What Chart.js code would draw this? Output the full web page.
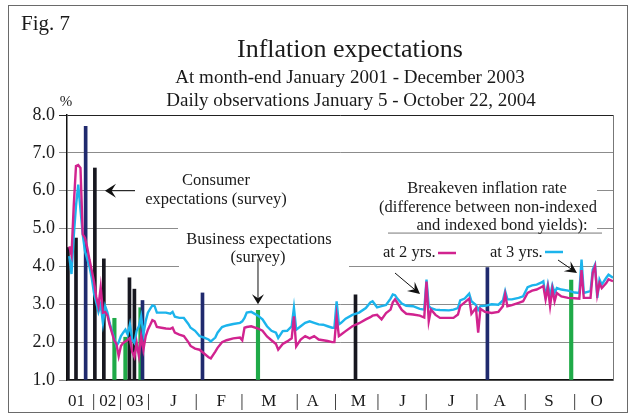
<!DOCTYPE html>
<html><head><meta charset="utf-8">
<script src="https://cdn.jsdelivr.net/npm/chart.js@4/dist/chart.umd.min.js"></script>
<style>html,body{margin:0;padding:0;background:#fff}#wrap{width:635px;height:419px}</style>
</head><body><div id="wrap"><canvas id="c" width="635" height="419"></canvas></div>
<script>
// observation number: 1-36 = month-ends Jan 2001 - Dec 2003, 37+ = daily obs Jan 5 - Oct 22, 2004
const obs = [1,2,3,4,5,6,7,8,9,10,11,12,13,14,15,16,17,18,19,20,21,22,23,24,25,26,27,28,29,30,31,32,33,34,35,36,
  37,38,39,40,42,44,46,47,48,50,52,54,55,57,59,61,63,64,66,67,69,71,74,77,78,79,80,82,85,87,89,91,93,94,96,98,100,101,102,104,106,108,110,112,114,116,118,119,120,121,122,124,127,130,133,135,136,138,140,142,144,145,146,147,149,151,154,157,159,160,161,162,164,166,170,172,174,175,177,179,180,182,183,184,186,189,192,194,195,196,198,201,203,205,207,209,211,212,213,214,215,216,217,218,220,223,226,228,229,230,233,234,235,236,237,238,240,241,243];
// breakeven inflation rate, 2-year bonds (%)
const be2 = [4.53,4.3,5.6,6.65,6.68,6.6,4.85,4.75,4.5,4.18,3.9,3.6,3.2,2.95,3.45,2.78,2.8,2.7,2.45,2.25,2.05,1.95,1.63,1.9,1.98,2.02,2.06,2.11,1.75,1.61,1.98,1.63,2.16,1.8,2.15,2.33,
  2.45,2.58,2.55,2.4,2.38,2.36,2.35,2.38,2.25,2.2,2.16,2.0,1.9,1.83,1.8,1.7,1.6,1.57,1.75,1.85,2.0,2.05,2.1,2.12,2.05,2.38,2.4,2.42,2.36,2.3,2.15,2.05,1.95,1.8,1.95,2.02,2.1,2.68,1.89,2.07,2.16,2.1,2.16,2.07,2.05,2.03,2.0,2.0,2.68,2.16,2.2,2.29,2.42,2.5,2.6,2.66,2.7,2.72,2.6,2.77,2.86,3.05,3.13,3.04,2.85,2.75,2.73,2.7,2.65,3.6,2.55,2.86,2.72,2.64,2.64,2.64,2.73,2.95,3.05,3.15,2.75,2.9,2.25,2.88,2.8,2.77,2.8,2.95,3.26,2.95,2.98,3.04,3.08,3.3,3.36,3.39,3.45,3.48,3.13,3.45,2.95,3.4,3.08,3.3,3.21,3.17,3.16,3.15,3.9,3.17,3.17,3.83,4.0,3.26,3.56,3.43,3.56,3.66,3.61];
// breakeven inflation rate, 3-year bonds (%)
const be3 = [4.27,3.8,4.8,5.6,6.16,5.5,4.85,4.4,4.2,4.0,3.7,3.3,3.05,2.8,3.0,2.5,2.95,2.78,2.5,2.3,2.1,1.9,2.0,2.16,2.25,2.33,2.2,2.47,2.07,1.98,2.3,2.42,2.68,2.2,2.55,2.78,
  2.88,2.97,2.95,2.78,2.78,2.78,2.75,2.8,2.67,2.64,2.64,2.48,2.38,2.3,2.16,2.12,2.07,2.02,2.12,2.25,2.4,2.44,2.48,2.51,2.55,2.64,2.78,2.8,2.7,2.6,2.42,2.3,2.25,2.11,2.29,2.3,2.42,2.91,2.33,2.42,2.51,2.55,2.51,2.47,2.46,2.42,2.38,2.38,3.08,2.47,2.51,2.62,2.72,2.78,2.9,3.05,3.08,2.92,2.95,2.98,3.15,3.26,3.24,3.15,3.02,2.96,2.95,2.88,2.86,3.65,2.95,2.9,2.86,2.85,2.84,2.86,2.9,3.1,3.15,3.28,3.08,2.98,2.85,2.95,2.96,3.0,2.99,3.1,3.35,3.13,3.13,3.17,3.21,3.45,3.5,3.52,3.57,3.61,3.2,3.52,3.21,3.5,3.3,3.43,3.39,3.36,3.31,3.3,4.18,3.3,3.35,3.92,4.05,3.17,3.65,3.52,3.7,3.78,3.7];
// consumer expectations (survey)
const consumerT = [0.4,4,8.3,12.4,16.4,27.8,30,33.6,60.3,128.4,187.1];
const consumerV = [4.5,4.75,7.7,6.6,4.2,3.7,3.4,3.1,3.3,3.25,3.97];
// business expectations (survey)
const businessT = [21.1,26,32.7,85,224.4];
const businessV = [2.63,2.13,2.91,2.84,3.64];
// axis labels
const xTickPos = [4.2,11.9,18.1,23.8,30.3,36.3,47.4,57.5,68.6,77.9,89.8,102.5,109.3,119.5,129.7,138.4,149.3,159.9,171,182.4,192.5,203.9,214.5,225.9,235.7];
const xTickLabels = ['01','|','02','|','03','|','J','|','F','|','M','|','A','|','M','|','J','|','J','|','A','|','S','|','O'];
const yTickValues = [1,2,3,4,5,6,7,8];

const SERIF = '"Liberation Serif", "DejaVu Serif", serif';
const MAG = '#d1238f', CYAN = '#1cb4ec', GREEN = '#1faa48', NAVY = '#202a6e', BLK = '#17171f';
const consumerColors = [BLK,BLK,NAVY,BLK,BLK,BLK,BLK,NAVY,NAVY,BLK,NAVY];

function arrowHead(c, x1, y1, x2, y2, L, W) {
  const a = Math.atan2(y2 - y1, x2 - x1), ux = Math.cos(a), uy = Math.sin(a);
  const px = -uy, py = ux;
  c.beginPath();
  c.moveTo(x2, y2);
  c.lineTo(x2 - L*ux + W*px, y2 - L*uy + W*py);
  c.lineTo(x2 - 0.6*L*ux, y2 - 0.6*L*uy);
  c.lineTo(x2 - L*ux - W*px, y2 - L*uy - W*py);
  c.closePath(); c.fill();
}
function arrow(c, x1, y1, x2, y2, L, W) {
  const a = Math.atan2(y2 - y1, x2 - x1);
  c.beginPath(); c.moveTo(x1, y1); c.lineTo(x2 - 0.5*L*Math.cos(a), y2 - 0.5*L*Math.sin(a)); c.stroke();
  arrowHead(c, x1, y1, x2, y2, L, W);
}

const deco = {
  id: 'deco',
  beforeDraw(chart) {
    const c = chart.ctx;
    c.save();
    c.fillStyle = '#fff'; c.fillRect(0, 0, chart.width, chart.height);
    c.strokeStyle = '#6a6a6a'; c.lineWidth = 1; c.strokeRect(8.5, 5.5, 619, 407);
    c.fillStyle = '#1a1a1a'; c.textBaseline = 'alphabetic';
    c.font = '21px ' + SERIF; c.textAlign = 'left'; c.fillText('Fig. 7', 21, 30);
    c.textAlign = 'center';
    c.font = '26px ' + SERIF; c.fillText('Inflation expectations', 350, 57);
    c.font = '19px ' + SERIF;
    c.fillText('At month-end January 2001 - December 2003', 350, 83);
    c.fillText('Daily observations January 5 - October 22, 2004', 351, 106);
    c.font = '15px ' + SERIF; c.fillText('%', 66, 106);
    c.restore();
  },
  beforeDatasetsDraw(chart) {
    const c = chart.ctx, a = chart.chartArea, X = chart.scales.x, Y = chart.scales.y;
    c.save();
    // right frame of plot
    c.strokeStyle = '#777'; c.lineWidth = 1;
    c.beginPath(); c.moveTo(Math.round(a.right) + 0.5, a.top); c.lineTo(Math.round(a.right) + 0.5, a.bottom); c.stroke();
    // gaps in grid lines behind the notes
    c.fillStyle = '#fff';
    const y6 = Y.getPixelForValue(6), y5 = Y.getPixelForValue(5), y4 = Y.getPixelForValue(4);
    c.fillRect(135, y6 - 4, 597 - 135, 8);
    c.fillRect(178, y5 - 4, 597 - 178, 8);
    c.fillRect(179, y4 - 4, 349 - 179, 8);
    // underline of breakeven note
    c.strokeStyle = '#777';
    c.beginPath(); c.moveTo(388, y5 + 4.5); c.lineTo(602, y5 + 4.5); c.stroke();
    // texts
    c.fillStyle = '#1a1a1a'; c.font = '16.5px ' + SERIF; c.textAlign = 'center'; c.textBaseline = 'alphabetic';
    c.fillText('Consumer', 216, 185);
    c.fillText('expectations (survey)', 216, 204);
    c.fillText('Business expectations', 259, 244);
    c.fillText('(survey)', 258, 262);
    c.fillText('Breakeven inflation rate', 487, 193);
    c.fillText('(difference between non-indexed', 488, 212);
    c.fillText('and indexed bond yields):', 502, 230);
    c.textAlign = 'left';
    c.fillText('at 2 yrs.', 383, 257);
    c.fillText('at 3 yrs.', 490, 257);
    // legend samples
    c.lineWidth = 2.5;
    c.strokeStyle = MAG; c.beginPath(); c.moveTo(438, 253); c.lineTo(456, 253); c.stroke();
    c.strokeStyle = CYAN; c.beginPath(); c.moveTo(545, 252); c.lineTo(563, 252); c.stroke();
    // arrows
    c.strokeStyle = '#111'; c.fillStyle = '#111'; c.lineWidth = 1;
    arrow(c, 135, y6, X.getPixelForValue(16.9), y6, 11, 7);
    arrow(c, X.getPixelForValue(85), Y.getPixelForValue(4.2), X.getPixelForValue(85), Y.getPixelForValue(3.0), 10, 6);
    arrow(c, 395, 273, 420, 294, 12, 6);
    arrow(c, 558, 260, 577, 273, 12, 6);
    c.restore();
  }
};

const pts = (xs, ys) => xs.map((t, i) => ({x: t, y: ys[i]}));

new Chart(document.getElementById('c'), {
  type: 'line',
  data: {
    datasets: [
      {label: 'at 2 yrs.', data: pts(obs, be2), borderColor: MAG, borderWidth: 2.4, pointRadius: 0, tension: 0, order: 0},
      {label: 'at 3 yrs.', data: pts(obs, be3), borderColor: CYAN, borderWidth: 2.4, pointRadius: 0, tension: 0, order: 1},
      {type: 'bar', label: 'Consumer expectations (survey)', data: pts(consumerT, consumerV), backgroundColor: consumerColors, barThickness: 3, grouped: false, base: 1, order: 2},
      {type: 'bar', label: 'Business expectations (survey)', data: pts(businessT, businessV), backgroundColor: GREEN, barThickness: 3.5, grouped: false, base: 1, order: 3}
    ]
  },
  options: {
    responsive: false, animation: false, devicePixelRatio: 1, events: [],
    layout: {padding: {left: 0, right: 22, top: 115, bottom: 0}},
    plugins: {legend: {display: false}, tooltip: {enabled: false}, title: {display: false}},
    scales: {
      x: {
        type: 'linear', min: 0, max: 243, offset: false,
        afterBuildTicks: s => { s.ticks = xTickPos.map(v => ({value: v})); },
        afterFit: s => { s.height = 39; },
        ticks: {autoSkip: false, maxRotation: 0, minRotation: 0, padding: 11, color: '#1a1a1a',
          font: {family: SERIF, size: 17}, callback: (v, i) => xTickLabels[i]},
        grid: {display: false, drawTicks: false, offset: false},
        border: {display: true, color: '#111', width: 1.5}
      },
      y: {
        min: 1, max: 8,
        afterBuildTicks: s => { s.ticks = yTickValues.map(v => ({value: v})); },
        afterFit: s => { s.width = 67; },
        ticks: {padding: 4, color: '#1a1a1a', font: {family: SERIF, size: 18}, callback: v => v.toFixed(1)},
        grid: {color: ctx => (ctx.tick && ctx.tick.value === 8) ? '#222' : '#8c8c8c', lineWidth: 1, tickLength: 8, drawTicks: true},
        border: {display: true, color: '#111', width: 1.5}
      }
    }
  },
  plugins: [deco]
});
</script></body></html>
